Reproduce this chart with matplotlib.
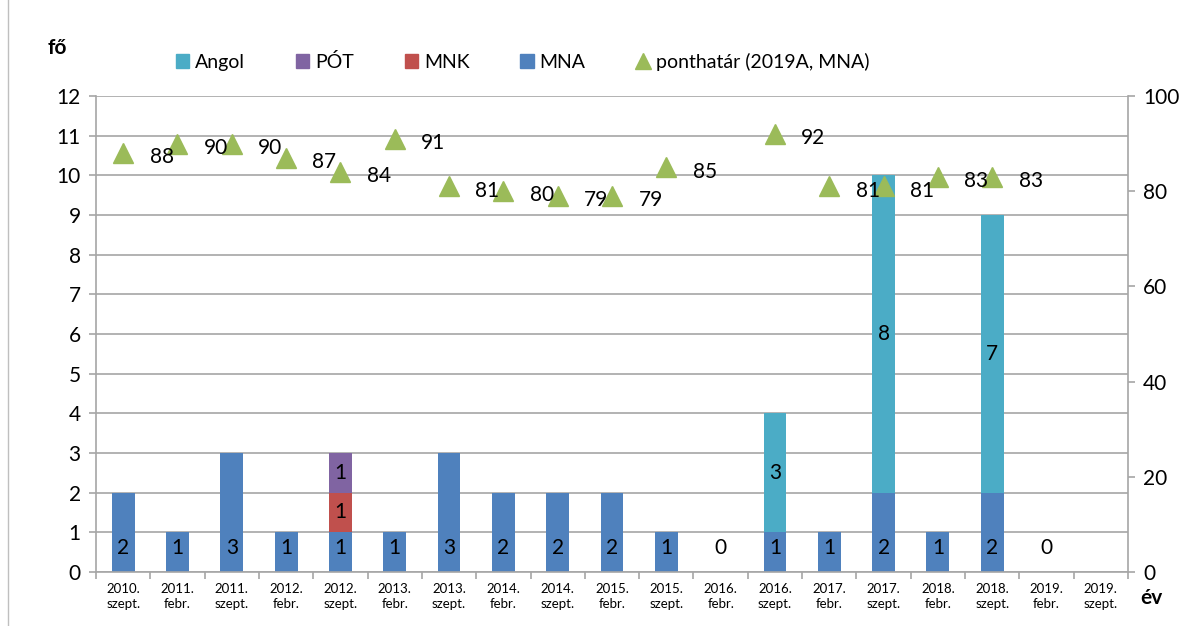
import numpy as np
import matplotlib
matplotlib.use("Agg")
import matplotlib.pyplot as plt
from matplotlib.lines import Line2D
from matplotlib.patches import Patch

plt.rcParams['font.family'] = ['Lato', 'DejaVu Sans']

categories = ["2010.\nszept.", "2011.\nfebr.", "2011.\nszept.", "2012.\nfebr.", "2012.\nszept.",
              "2013.\nfebr.", "2013.\nszept.", "2014.\nfebr.", "2014.\nszept.", "2015.\nfebr.",
              "2015.\nszept.", "2016.\nfebr.", "2016.\nszept.", "2017.\nfebr.", "2017.\nszept.",
              "2018.\nfebr.", "2018.\nszept.", "2019.\nfebr.", "2019.\nszept."]
mna = [2, 1, 3, 1, 1, 1, 3, 2, 2, 2, 1, 0, 1, 1, 2, 1, 2, 0, np.nan]
mnk = [0, 0, 0, 0, 1, 0, 0, 0, 0, 0, 0, 0, 0, 0, 0, 0, 0, 0, 0]
pot = [0, 0, 0, 0, 1, 0, 0, 0, 0, 0, 0, 0, 0, 0, 0, 0, 0, 0, 0]
angol = [0, 0, 0, 0, 0, 0, 0, 0, 0, 0, 0, 0, 3, 0, 8, 0, 7, 0, 0]
ponthatar = [88, 90, 90, 87, 84, 91, 81, 80, 79, 79, 85, np.nan, 92, 81, 81, 83, 83, np.nan, np.nan]

c_mna = "#4F81BD"
c_mnk = "#C0504D"
c_pot = "#8064A2"
c_ang = "#4BACC6"
c_tri = "#9BBB59"
grid_c = "#A6A6A6"

fig = plt.figure(figsize=(12.02, 6.26), dpi=100)
ax = fig.add_axes([96/1202, 1-572/626, (1128-96)/1202, (572-96)/626])
x = np.arange(len(categories))
w = 0.42
mna_a = np.nan_to_num(np.array(mna, dtype=float))
mnk_a = np.array(mnk, dtype=float)
pot_a = np.array(pot, dtype=float)
ang_a = np.array(angol, dtype=float)

ax.bar(x, mna_a, w, color=c_mna, zorder=2)
ax.bar(x, mnk_a, w, bottom=mna_a, color=c_mnk, zorder=2)
ax.bar(x, pot_a, w, bottom=mna_a + mnk_a, color=c_pot, zorder=2)
ax.bar(x, ang_a, w, bottom=mna_a + mnk_a + pot_a, color=c_ang, zorder=2)

fs = 15
for i, v in enumerate(mna):
    if np.isnan(v):
        continue
    ax.text(x[i], 0.6, f"{int(v)}", ha="center", va="center", fontsize=fs, zorder=5)
for arr, base in [(mnk_a, mna_a), (pot_a, mna_a + mnk_a), (ang_a, mna_a + mnk_a + pot_a)]:
    for i, v in enumerate(arr):
        if v > 0:
            ax.text(x[i], base[i] + v / 2, f"{int(v)}", ha="center", va="center", fontsize=fs, zorder=5)

ax.set_xlim(-0.5, len(categories) - 0.5)
ax.set_ylim(0, 12)
ax.set_yticks(range(0, 13))
ax.yaxis.grid(True, color=grid_c, linewidth=1.2, zorder=0)
ax.set_axisbelow(True)
ax.set_xticks(x)
ax.set_xticklabels(categories, fontsize=9.5, linespacing=1.3)
ax.set_xticks(np.arange(-0.5, len(categories)), minor=True)
ax.tick_params(axis="x", which="major", length=0, pad=8)
ax.tick_params(axis="x", which="minor", length=5, color=grid_c, width=1.2)
ax.tick_params(axis="y", labelsize=fs, length=5, color=grid_c, width=1.2, pad=6)
for s in ["top", "right"]:
    ax.spines[s].set_visible(False)
for s in ["left", "bottom"]:
    ax.spines[s].set_color(grid_c)
    ax.spines[s].set_linewidth(1.2)

ax2 = ax.twinx()
ax2.set_ylim(0, 100)
ax2.set_yticks(range(0, 101, 20))
ax2.tick_params(axis="y", labelsize=fs, length=5, color=grid_c, width=1.2, pad=6)
for s in ["top", "left", "bottom"]:
    ax2.spines[s].set_visible(False)
ax2.spines["right"].set_color(grid_c)
ax2.spines["right"].set_linewidth(1.2)
ax2.plot(x, ponthatar, linestyle="none", marker="^", markersize=14, color=c_tri, zorder=4)
for i, v in enumerate(ponthatar):
    if not np.isnan(v):
        ax2.annotate(f"{int(v)}", (x[i], v), xytext=(19, -3), textcoords="offset points",
                     ha="left", va="center", fontsize=fs, zorder=6)

fig.text(48/1202, 1-48/626, "fő", fontsize=15, fontweight="bold", ha="left", va="center")
fig.text(1140/1202, 1-598/626, "év", fontsize=15, fontweight="bold", ha="left", va="center")

handles = [Patch(color=c_ang, label="Angol"), Patch(color=c_pot, label="PÓT"),
           Patch(color=c_mnk, label="MNK"), Patch(color=c_mna, label="MNA"),
           Line2D([], [], linestyle="none", marker="^", markersize=12, color=c_tri,
                  label="ponthatár (2019A, MNA)")]
fig.legend(handles=handles, loc="center left", bbox_to_anchor=(168/1202, 1-62/626), ncol=5,
           frameon=False, fontsize=14, handlelength=0.7, handleheight=0.7, handletextpad=0.3,
           columnspacing=2.6, borderaxespad=0)

fig.add_artist(Line2D([8/1202, 8/1202], [0, 1], transform=fig.transFigure, color="#BFBFBF", linewidth=1))

fig.savefig("out.png", dpi=100)
